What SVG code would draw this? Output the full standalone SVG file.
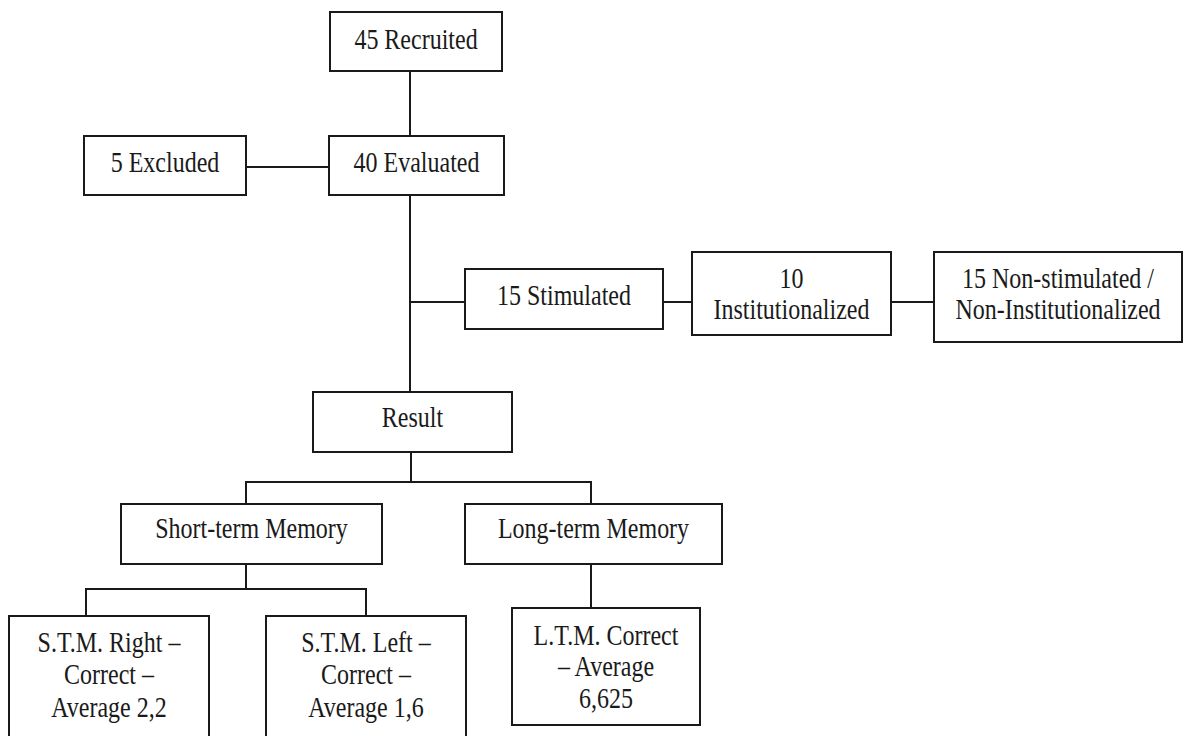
<svg xmlns="http://www.w3.org/2000/svg" width="1184" height="736" viewBox="0 0 1184 736">
<style>
.box{fill:#fff;stroke:#1a1a1a;stroke-width:2}
.ln{fill:none;stroke:#1a1a1a;stroke-width:2}
text{font-family:"Liberation Serif","Times New Roman",serif;font-size:24px;fill:#1a1a1a;text-anchor:middle}
</style>
<rect width="1184" height="736" fill="#fff"/>
<g id="connectors">
<path class="ln" d="M410 71V136"/>
<path class="ln" d="M246 167H329"/>
<path class="ln" d="M410 195V392"/>
<path class="ln" d="M410 302H465"/>
<path class="ln" d="M663 302H692"/>
<path class="ln" d="M891 302H934"/>
<path class="ln" d="M411 452V482"/>
<path class="ln" d="M246 504V482H591V504"/>
<path class="ln" d="M246 564V589"/>
<path class="ln" d="M86 616V589H366V616"/>
<path class="ln" d="M591 564V608"/>
</g>
<g id="recruited"><rect class="box" x="330" y="12" width="172" height="59"/><text transform="translate(416 48.5) scale(1 1.2)">45 Recruited</text></g>
<g id="excluded"><rect class="box" x="84" y="136" width="162" height="59"/><text transform="translate(165 171.5) scale(1 1.2)">5 Excluded</text></g>
<g id="evaluated"><rect class="box" x="329" y="136" width="175" height="59"/><text transform="translate(416.5 171.5) scale(1 1.2)">40 Evaluated</text></g>
<g id="stimulated"><rect class="box" x="465" y="269" width="198" height="60"/><text transform="translate(564 305) scale(1 1.2)">15 Stimulated</text></g>
<g id="institutionalized"><rect class="box" x="692" y="252" width="199" height="83"/><text transform="translate(791.5 288) scale(1 1.2)">10</text><text transform="translate(791.5 319) scale(1 1.2)">Institutionalized</text></g>
<g id="nonstimulated"><rect class="box" x="934" y="252" width="248" height="90"/><text transform="translate(1058 288) scale(1 1.2)">15 Non-stimulated /</text><text transform="translate(1058 319) scale(1 1.2)">Non-Institutionalized</text></g>
<g id="result"><rect class="box" x="313" y="392" width="199" height="60"/><text transform="translate(412.5 427) scale(1 1.2)">Result</text></g>
<g id="stm"><rect class="box" x="121" y="504" width="261" height="60"/><text transform="translate(251.5 538) scale(1 1.2)">Short-term Memory</text></g>
<g id="ltm"><rect class="box" x="465" y="504" width="257" height="60"/><text transform="translate(593.5 538) scale(1 1.2)">Long-term Memory</text></g>
<g id="stm-right"><rect class="box" x="9" y="616" width="200" height="140"/><text transform="translate(109 652) scale(1 1.2)">S.T.M. Right –</text><text transform="translate(109 684) scale(1 1.2)">Correct –</text><text transform="translate(109 717) scale(1 1.2)">Average 2,2</text></g>
<g id="stm-left"><rect class="box" x="266" y="616" width="200" height="140"/><text transform="translate(366 652) scale(1 1.2)">S.T.M. Left –</text><text transform="translate(366 684) scale(1 1.2)">Correct –</text><text transform="translate(366 717) scale(1 1.2)">Average 1,6</text></g>
<g id="ltm-correct"><rect class="box" x="512" y="608" width="188" height="117"/><text transform="translate(606 645) scale(1 1.2)">L.T.M. Correct</text><text transform="translate(606 676) scale(1 1.2)">– Average</text><text transform="translate(606 708) scale(1 1.2)">6,625</text></g>
</svg>
